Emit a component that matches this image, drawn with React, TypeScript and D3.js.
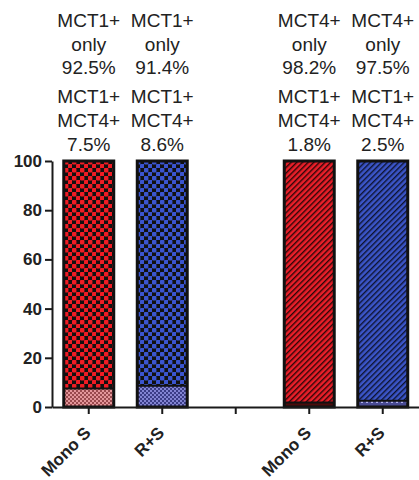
import React, { useEffect, useRef } from "react";
import { select, scaleBand, scaleLinear, axisBottom, axisLeft } from "d3";

// groups on the x axis (the middle one is an empty spacer with a tick)
const groups = ["mct1-mono", "mct1-rs", "gap", "mct4-mono", "mct4-rs"];
const groupLabels = ["Mono S", "R+S", "", "Mono S", "R+S"];
const singleMarker = ["MCT1+", "MCT1+", "", "MCT4+", "MCT4+"];
// % of cells positive for a single marker only
const singleValues = [92.5, 91.4, null, 98.2, 97.5];
// % of cells positive for both MCT1 and MCT4
const doubleValues = [7.5, 8.6, null, 1.8, 2.5];
const yTicks = [0, 20, 40, 60, 80, 100];

const topFill = ["url(#redCheck)", "url(#blueCheck)", "", "url(#redStripe)", "url(#blueStripe)"];
const bottomFill = ["url(#redFine)", "url(#blueFine)", "", "#4a0c0c", "url(#blueDots)"];

const W = 419;
const H = 480;
const margin = { top: 161, left: 52, bottom: 73 };
const FONT = "'Liberation Sans', Arial, sans-serif";

const App = () => {
  const svgRef = useRef<SVGSVGElement>(null);

  const xScale = scaleBand<string>()
    .domain(groups)
    .range([margin.left, 419.5])
    .paddingInner(0.32)
    .paddingOuter(0.16);
  const yScale = scaleLinear().domain([0, 100]).range([H - margin.bottom, margin.top]);

  useEffect(() => {
    const svg = select(svgRef.current);

    // axes
    const yAxis = axisLeft(yScale).tickValues(yTicks).tickSize(7).tickSizeOuter(0).tickPadding(3);
    const xAxis = axisBottom(xScale).tickSize(7).tickSizeOuter(0).tickFormat(() => "");

    const gy = svg
      .select<SVGGElement>(".y-axis")
      .attr("transform", `translate(${margin.left},0)`)
      .call(yAxis);
    gy.attr("font-size", null).attr("font-family", null);
    gy.selectAll("path, line").attr("stroke", "#1a1a1a").attr("stroke-width", 2);
    gy.selectAll("text")
      .attr("font-size", 17)
      .attr("font-weight", "bold")
      .attr("font-family", FONT)
      .attr("fill", "#222");

    const gx = svg
      .select<SVGGElement>(".x-axis")
      .attr("transform", `translate(0,${yScale(0)})`)
      .call(xAxis);
    gx.selectAll("path, line").attr("stroke", "#1a1a1a").attr("stroke-width", 2);
  }, []);

  const fmt = (v: number) => `${v}%`;

  return (
    <div style={{ position: "absolute", left: 0, top: 0 }}>
      <svg ref={svgRef} width={W} height={H} style={{ display: "block", background: "#fff" }}>
        <defs>
          <pattern id="redCheck" width="8" height="8" patternUnits="userSpaceOnUse">
            <rect width="8" height="8" fill="#111" />
            <rect x="0" y="0" width="4.4" height="4.4" rx="0.8" fill="#f01c24" />
            <rect x="4" y="4" width="4.4" height="4.4" rx="0.8" fill="#f01c24" />
          </pattern>
          <pattern id="blueCheck" width="8" height="8" patternUnits="userSpaceOnUse">
            <rect width="8" height="8" fill="#111" />
            <rect x="0" y="0" width="4.4" height="4.4" rx="0.8" fill="#3b55cf" />
            <rect x="4" y="4" width="4.4" height="4.4" rx="0.8" fill="#3b55cf" />
          </pattern>
          <pattern id="redFine" width="4" height="4" patternUnits="userSpaceOnUse">
            <rect width="4" height="4" fill="#9a4a4e" />
            <rect width="2" height="2" fill="#e4969a" />
            <rect x="2" y="2" width="2" height="2" fill="#e4969a" />
          </pattern>
          <pattern id="blueFine" width="4" height="4" patternUnits="userSpaceOnUse">
            <rect width="4" height="4" fill="#3b3d86" />
            <rect width="2" height="2" fill="#8284d2" />
            <rect x="2" y="2" width="2" height="2" fill="#8284d2" />
          </pattern>
          <pattern id="blueDots" width="5" height="5" patternUnits="userSpaceOnUse">
            <rect width="5" height="5" fill="#4a4c94" />
            <rect x="1" y="1" width="2" height="2" fill="#b0b2ea" />
          </pattern>
          <pattern id="redStripe" width="4" height="4" patternUnits="userSpaceOnUse" patternTransform="rotate(45)">
            <rect width="4" height="4" fill="#ea1f29" />
            <rect width="1.4" height="4" fill="#2a0608" />
          </pattern>
          <pattern id="blueStripe" width="4" height="4" patternUnits="userSpaceOnUse" patternTransform="rotate(45)">
            <rect width="4" height="4" fill="#3b55c8" />
            <rect width="1.4" height="4" fill="#0e1330" />
          </pattern>
        </defs>

        {groups.map((g, i) => {
          const single = singleValues[i];
          const dbl = doubleValues[i];
          if (single == null || dbl == null) return null;
          const x = xScale(g) as number;
          const bw = xScale.bandwidth();
          return (
            <g key={g}>
              <rect
                x={x}
                y={yScale(dbl + single)}
                width={bw}
                height={yScale(dbl) - yScale(dbl + single)}
                fill={topFill[i]}
              />
              <rect x={x} y={yScale(dbl)} width={bw} height={yScale(0) - yScale(dbl)} fill={bottomFill[i]} />
              <line x1={x} x2={x + bw} y1={yScale(dbl)} y2={yScale(dbl)} stroke="#111" strokeWidth={2} />
              <rect
                x={x}
                y={yScale(100)}
                width={bw}
                height={yScale(0) - yScale(100)}
                fill="none"
                stroke="#111"
                strokeWidth={3}
              />
            </g>
          );
        })}

        <g className="x-axis"></g>
        <g className="y-axis"></g>

        {/* annotations above each bar */}
        {groups.map((g, i) => {
          const single = singleValues[i];
          const dbl = doubleValues[i];
          if (single == null || dbl == null) return null;
          const cx = (xScale(g) as number) + xScale.bandwidth() / 2;
          const lines = [singleMarker[i], "only", fmt(single), "MCT1+", "MCT4+", fmt(dbl)];
          const baselines = [27, 50.5, 74, 103, 127, 151];
          return (
            <g key={"t" + g}>
              {lines.map((t, j) => (
                <text key={j} x={cx} y={baselines[j]} textAnchor="middle" fontFamily={FONT} fontSize={19} fill="#222">
                  {t}
                </text>
              ))}
            </g>
          );
        })}

        {/* rotated category labels */}
        {groups.map((g, i) =>
          groupLabels[i] ? (
            <text
              key={"l" + g}
              transform={`translate(${(xScale(g) as number) + xScale.bandwidth() / 2 + 3},${yScale(0) + 27}) rotate(-45)`}
              textAnchor="end"
              fontFamily={FONT}
              fontWeight="bold"
              fontSize={17}
              fill="#222"
            >
              {groupLabels[i]}
            </text>
          ) : null
        )}
      </svg>
    </div>
  );
};

export default App;
